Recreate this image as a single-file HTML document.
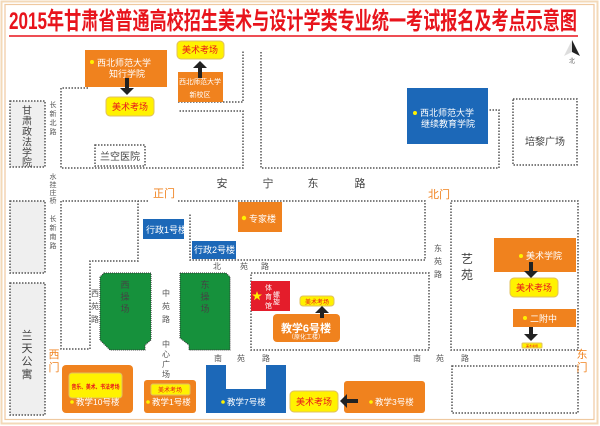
<!DOCTYPE html>
<html><head><meta charset="utf-8"><style>
html,body{margin:0;padding:0;background:#fff;}
svg{display:block;}
text{font-family:"Liberation Sans","Noto Sans CJK SC",sans-serif;}
</style></head><body>
<svg width="600" height="426" viewBox="0 0 600 426" xmlns="http://www.w3.org/2000/svg">
<rect x="0" y="0" width="600" height="426" fill="#fff"/>
<rect x="1.5" y="1.5" width="596" height="422" fill="none" stroke="#f3d9b8" stroke-width="2"/>
<rect x="5" y="4.5" width="589" height="415" fill="none" stroke="#efc9a0" stroke-width="1.2"/>
<text x="9" y="29" font-size="24" fill="#e8141c" textLength="568" lengthAdjust="spacingAndGlyphs" font-weight="bold">2015年甘肃省普通高校招生美术与设计学类专业统一考试报名及考点示意图</text>
<line x1="9" y1="36" x2="578" y2="36" stroke="#e8141c" stroke-width="1.5"/>

<polygon points="572,40 564,56 572,52" fill="#ddd"/>
<polygon points="572,40 580,56 572,52" fill="#222"/>
<text x="572" y="63" font-size="6" fill="#666" text-anchor="middle">北</text>

<g fill="none" stroke="#555" stroke-width="1.5" stroke-dasharray="1.5,1.5">
<rect x="10" y="101" width="35" height="66" fill="#efefef"/>
<rect x="10" y="201" width="35" height="72" fill="#efefef"/>
<rect x="10" y="283" width="35" height="132" fill="#efefef"/>
<polyline points="88,88 61,88 61,168 243,168 243,111 178,111"/>
<polyline points="178,102 243,102 243,50"/>
<rect x="95" y="145" width="50" height="21"/>
<polyline points="261,52 261,168 499,168 499,110 489,110"/>
<rect x="513" y="99" width="64" height="66"/>
<polyline points="148,201 61,201 61,349 90,349 90,261 138,261 138,201"/>
<polyline points="178,201 190,201"/>
<polyline points="190,201 425,201 425,260 190,260 190,213"/>
<rect x="251" y="273" width="178" height="77"/>
<rect x="451" y="201" width="127" height="149"/>
<rect x="452" y="366" width="126" height="47"/>
</g>

<path d="M104,273 H151 V340 L145,345 V350 H110 L100,340 V277 Z" fill="#16913c" stroke="#333" stroke-width="1" stroke-dasharray="1,1"/>
<path d="M180,273 H226 L230,277 V350 H189 V345 L180,338 Z" fill="#16913c" stroke="#333" stroke-width="1" stroke-dasharray="1,1"/>

<rect x="407" y="88" width="81" height="56" fill="#1c68b8"/>
<rect x="143" y="219" width="41" height="20" fill="#1c68b8"/>
<rect x="192" y="241" width="44" height="18" fill="#1c68b8"/>
<path d="M206,365 H226 V389 H266 V365 H286 V413 H206 Z" fill="#1c68b8"/>

<rect x="85" y="50" width="82" height="37" fill="#f0821e"/>
<rect x="178" y="72" width="45" height="30" fill="#f0821e"/>
<rect x="238" y="202" width="44" height="30" fill="#f0821e"/>
<rect x="273" y="314" width="67" height="28" rx="4" fill="#f0821e"/>
<rect x="62" y="365" width="71" height="48" rx="4" fill="#f0821e"/>
<rect x="144" y="380" width="52" height="33" rx="3" fill="#f0821e"/>
<rect x="344" y="381" width="81" height="32" rx="3" fill="#f0821e"/>
<rect x="494" y="238" width="82" height="34" fill="#f0821e"/>
<rect x="513" y="309" width="63" height="18" fill="#f0821e"/>

<rect x="251" y="281" width="39" height="30" fill="#e41d2b"/>

<g fill="#fff200" stroke="#e0c060" stroke-width="1">
<rect x="106" y="97" width="48" height="19" rx="4"/>
<rect x="177" y="41" width="47" height="18" rx="4"/>
<rect x="300" y="296" width="34" height="10" rx="3"/>
<rect x="69" y="373" width="53" height="25" rx="3"/>
<rect x="151" y="384" width="39" height="11" rx="2"/>
<rect x="290" y="391" width="48" height="21" rx="4"/>
<rect x="510" y="278" width="48" height="19" rx="4"/>
<rect x="522" y="343" width="20" height="5" rx="1"/>
</g>

<g fill="#222">
<rect x="125" y="78" width="4" height="10"/><polygon points="120,88 134,88 127,95"/>
<rect x="198" y="68" width="4" height="10"/><polygon points="193,68 207,68 200,61"/>
<rect x="320" y="312" width="4" height="6"/><polygon points="315,313 329,313 322,306"/>
<rect x="346" y="399" width="12" height="4"/><polygon points="347,394 347,408 340,401"/>
<rect x="529" y="262" width="4" height="10"/><polygon points="524,271 538,271 531,278"/>
<rect x="529" y="327" width="4" height="8"/><polygon points="524,334 538,334 531,341"/>
</g>

<g fill="#fff200">
<circle cx="92" cy="62" r="2"/><circle cx="415" cy="113" r="2"/><circle cx="244" cy="218" r="2.2"/>
<circle cx="72" cy="402" r="1.8"/><circle cx="148" cy="402" r="1.8"/><circle cx="223" cy="402" r="1.8"/>
<circle cx="371" cy="402" r="1.8"/><circle cx="521" cy="256" r="2"/><circle cx="525" cy="318" r="2"/>
</g>
<polygon points="257,291 258.2,294.5 262,294.5 259,296.7 260,300.3 257,298 254,300.3 255,296.7 252,294.5 255.8,294.5" fill="#fff200"/>

<g fill="#fff" font-size="9">
<text x="97" y="66">西北师范大学</text>
<text x="109" y="77">知行学院</text>
<text x="200" y="84" font-size="7" text-anchor="middle">西北师范大学</text>
<text x="200" y="97" font-size="7" text-anchor="middle">新校区</text>
<text x="420" y="116" font-size="9">西北师范大学</text>
<text x="421" y="127" font-size="9">继续教育学院</text>
<text x="146" y="233" font-size="9">行政1号楼</text>
<text x="194" y="253" font-size="9">行政2号楼</text>
<text x="249" y="222" font-size="9">专家楼</text>
<text x="306" y="332" font-size="11" font-weight="bold" text-anchor="middle">教学6号楼</text>
<text x="306" y="339" font-size="6" text-anchor="middle">（原化工楼）</text>
<text x="76" y="405" font-size="8.5">教学10号楼</text>
<text x="152" y="405" font-size="8.5">教学1号楼</text>
<text x="227" y="405" font-size="8.5">教学7号楼</text>
<text x="375" y="405" font-size="8.5">教学3号楼</text>
<text x="526" y="259" font-size="9">美术学院</text>
<text x="530" y="322" font-size="9">二附中</text>
<text x="265" y="290" font-size="7">体</text>
<text x="265" y="299" font-size="7">育</text>
<text x="265" y="308" font-size="7">馆</text>
<text x="276" y="291" font-size="7" writing-mode="tb">螺旋</text>
</g>

<g fill="#e8141c" font-size="9" text-anchor="middle">
<text x="130" y="110">美术考场</text>
<text x="200" y="53">美术考场</text>
<text x="317" y="304" font-size="6">美术考场</text>
<text x="95.5" y="389" font-size="6" font-weight="bold" textLength="48" lengthAdjust="spacingAndGlyphs">音乐、美术、书法考场</text>
<text x="170" y="392" font-size="6">美术考场</text>
<text x="314" y="405">美术考场</text>
<text x="534" y="291">美术考场</text>
<text x="532" y="347" font-size="3">美术考场</text>
</g>

<g fill="#444" font-size="10" text-anchor="middle">
<text x="27" y="114">甘</text><text x="27" y="124.5">肃</text><text x="27" y="135">政</text><text x="27" y="145.5">法</text><text x="27" y="156">学</text><text x="27" y="166">院</text>
<text x="27" y="339" font-size="11">兰</text><text x="27" y="352" font-size="11">天</text><text x="27" y="365" font-size="11">公</text><text x="27" y="378" font-size="11">寓</text>
<text x="120" y="160">兰空医院</text>
<text x="545" y="145">培黎广场</text>
<text x="222" y="187" font-size="11">安</text><text x="268" y="187" font-size="11">宁</text><text x="313" y="187" font-size="11">东</text><text x="360" y="187" font-size="11">路</text>
<text x="125" y="288" font-size="9">西</text><text x="125" y="300" font-size="9">操</text><text x="125" y="312" font-size="9">场</text>
<text x="205" y="288" font-size="9">东</text><text x="205" y="300" font-size="9">操</text><text x="205" y="312" font-size="9">场</text>
<text x="467" y="263" font-size="12">艺</text><text x="467" y="279" font-size="12">苑</text>
</g>
<g fill="#555" font-size="7" text-anchor="middle">
<text x="53" y="107">长</text><text x="53" y="116">新</text><text x="53" y="125">北</text><text x="53" y="134">路</text>
<text x="53" y="179">水</text><text x="53" y="187">挂</text><text x="53" y="195">庄</text><text x="53" y="203">桥</text>
<text x="53" y="221">长</text><text x="53" y="230">新</text><text x="53" y="239">南</text><text x="53" y="248">路</text>
<text x="95" y="296" font-size="8">西</text><text x="95" y="309" font-size="8">苑</text><text x="95" y="322" font-size="8">路</text>
<text x="166" y="296" font-size="8">中</text><text x="166" y="309" font-size="8">苑</text><text x="166" y="322" font-size="8">路</text>
<text x="166" y="347" font-size="8">中</text><text x="166" y="357" font-size="8">心</text><text x="166" y="367" font-size="8">广</text><text x="166" y="377" font-size="8">场</text>
<text x="217" y="269" font-size="8">北</text><text x="244" y="269" font-size="8">苑</text><text x="265" y="269" font-size="8">路</text>
<text x="218" y="361" font-size="8">南</text><text x="241" y="361" font-size="8">苑</text><text x="266" y="361" font-size="8">路</text>
<text x="417" y="361" font-size="8">南</text><text x="440" y="361" font-size="8">苑</text><text x="465" y="361" font-size="8">路</text>
<text x="438" y="251" font-size="8">东</text><text x="438" y="264" font-size="8">苑</text><text x="438" y="277" font-size="8">路</text>
</g>

<g fill="#f0821e" font-size="11" text-anchor="middle">
<text x="164" y="197">正门</text>
<text x="439" y="198">北门</text>
<text x="54" y="358">西</text><text x="54" y="371">门</text>
<text x="582" y="358">东</text><text x="582" y="371">门</text>
</g>
</svg>
</body></html>
